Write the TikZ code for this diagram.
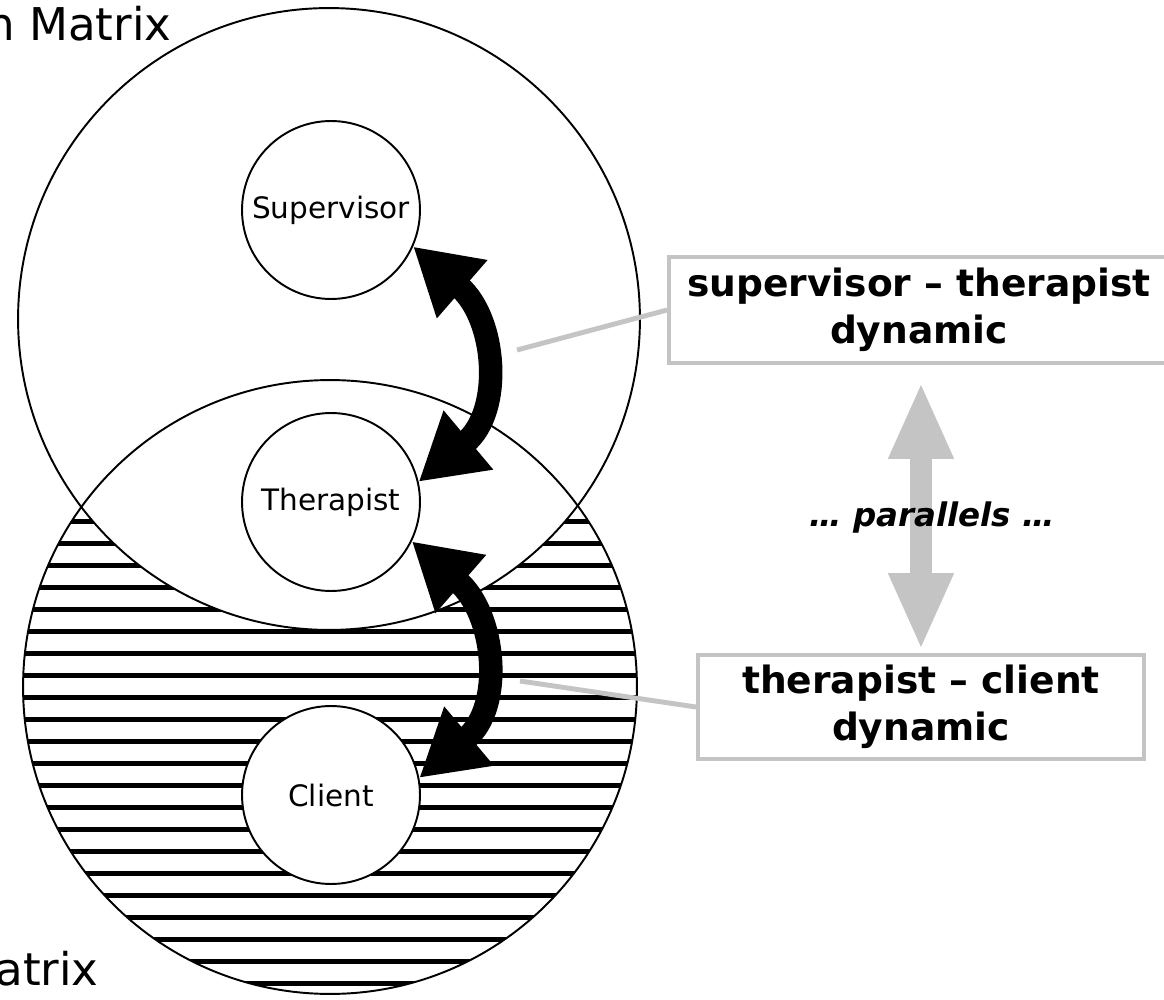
\documentclass[tikz,border=0pt]{standalone}
\usepackage{fontspec}
\setmainfont{DejaVu Sans}
\usepackage{tikz}
\usetikzlibrary{arrows.meta}
\definecolor{linegrey}{RGB}{196,196,196}
\tikzset{
	person/.style={circle, draw, fill=white, line width=1.1pt, minimum size=3.56cm, inner sep=0pt, font=\fontsize{16.8pt}{19pt}\selectfont},
	dynbox/.style={draw=linegrey, line width=2.3pt, align=center, inner sep=0pt, font=\fontsize{21.4pt}{26.6pt}\selectfont\bfseries},
	matrixlabel/.style={inner sep=0pt, font=\fontsize{25.7pt}{30pt}\selectfont},
	hatchline/.style={line width=2.6pt},
	bigarrow/.style={line width=0.47cm, {Triangle[length=1.3cm,width=1.45cm]}-{Triangle[length=1.3cm,width=1.45cm]}},
	pararrow/.style={line width=0.44cm, linegrey, {Triangle[length=1.54cm,width=1.2cm]}-{Triangle[length=1.54cm,width=1.2cm]}},
	pointer/.style={linegrey, line width=2.8pt}
}

\begin{document}
\begin{tikzpicture}[x=0.02cm, y=-0.02cm]

	\useasboundingbox (0,0) rectangle (1164,1000);

	\coordinate (upper) at (329,319);
	\coordinate (lower) at (330,687);

	% stripes in the lower matrix only
	\begin{scope}
		\clip (lower) circle (6.14cm);
		\foreach \k in {0,...,21}
			\draw[hatchline] (0,{521.7+22*\k}) -- (700,{521.7+22*\k});
	\end{scope}
	\fill[white] (upper) circle (6.22cm);

	\draw[line width=1.1pt] (upper) circle (6.22cm);
	\draw[line width=1.1pt] (lower) circle (6.14cm);

	\node[person] (sup) at (331,210) {Supervisor};
	\node[person] (ther) at (331,502) {Therapist};
	\node[person] (cli) at (331,795) {Client};

	\node[matrixlabel, anchor=base west] (smatrix) at (-14,41) {n Matrix};
	\node[matrixlabel, anchor=base west] (tmatrix) at (-5,985) {atrix};

	\draw[bigarrow] (sup.-24) to[out=-41, in=40, looseness=1.2] (ther.13);
	\draw[bigarrow] (ther.-26) to[out=-41, in=40, looseness=1.2] (cli.11);

	\node[dynbox, minimum width=10cm, minimum height=2.12cm] (stdyn) at (919,310) {supervisor -- therapist\\dynamic};
	\node[dynbox, minimum width=8.92cm, minimum height=2.08cm] (tcdyn) at (921,707) {therapist -- client\\dynamic};

	\coordinate (stpt) at (517,350);
	\coordinate (tcpt) at (520,681);
	\draw[pointer] (stpt) -- (stdyn.west);
	\draw[pointer] (tcpt) -- (tcdyn.west);

	\draw[pararrow, shorten <=0.34cm, shorten >=0.06cm] (stdyn.south -| tcdyn.north) -- (tcdyn.north);
	\node[font=\fontsize{18.5pt}{21pt}\selectfont\bfseries\itshape] (par) at (932,518) {… parallels …};

\end{tikzpicture}
\end{document}
